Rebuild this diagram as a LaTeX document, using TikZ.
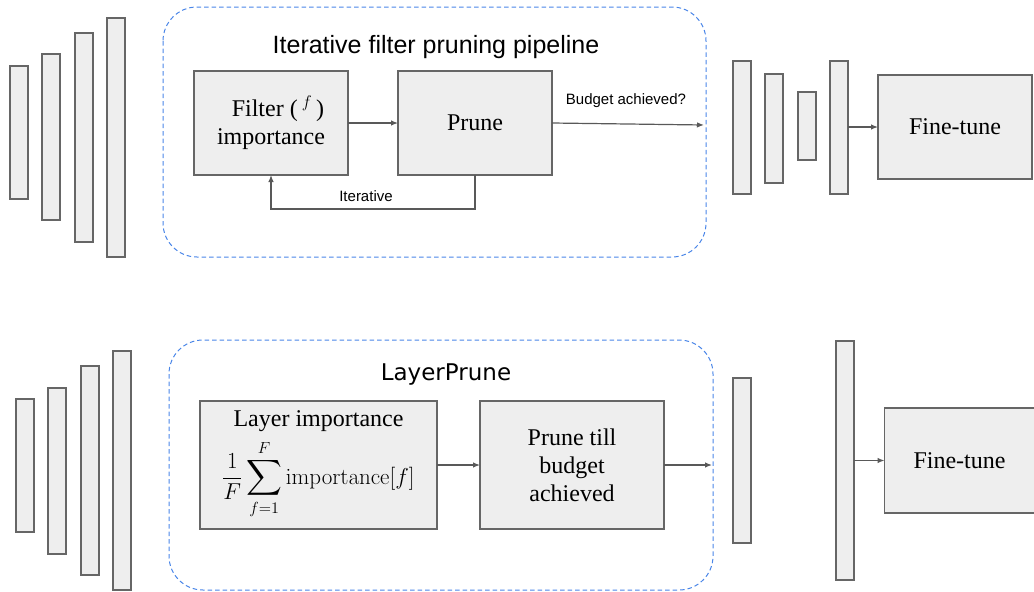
\RequirePackage{fix-cm}
\documentclass[tikz,border=0pt]{standalone}
\usepackage{amsmath}
\usepackage{exscale}
\usepackage[no-math]{fontspec}
\setmainfont{Liberation Serif}
\newfontfamily\arialfont{Liberation Sans}
\newfontfamily\dejafont{DejaVu Sans}
\usetikzlibrary{arrows.meta}
\definecolor{boxfill}{HTML}{EEEEEE}
\definecolor{boxline}{HTML}{666666}
\definecolor{arrline}{HTML}{595959}
\definecolor{dashblue}{HTML}{4A86E8}
\tikzset{
  bar/.style={draw=boxline, fill=boxfill, line width=1.2pt, minimum width=18pt, inner sep=0pt, outer sep=0pt},
  block/.style={draw=boxline, fill=boxfill, line width=1.2pt, inner sep=0pt, outer sep=0pt, align=center, font=\fontsize{24}{28}\selectfont},
  group/.style={draw=dashblue, line width=1pt, dash pattern=on 4.5pt off 3pt, rounded corners=34pt},
  conn/.style={draw=arrline, line width=1.2pt, -{Latex[length=7pt,width=5.5pt]}},
  smalllabel/.style={font=\arialfont\fontsize{15}{17}\selectfont, inner sep=0pt}
}
\begin{document}
\begin{tikzpicture}[x=1pt,y=-1pt]
\useasboundingbox (0,0) rectangle (1034,592);
% ---------- top row ----------
\node[bar, minimum height=133pt] (t1) at (19,132.5) {};
\node[bar, minimum height=166pt] (t2) at (51,137) {};
\node[bar, minimum height=209pt] (t3) at (84,137.5) {};
\node[bar, minimum height=239pt] (t4) at (116,137.5) {};

\draw[group] (163,7) rectangle (706,257);
\node[font=\arialfont\fontsize{25}{28}\selectfont, inner sep=0pt] (toptitle) at (436,47) {Iterative filter pruning pipeline};

\node[block, minimum width=154pt, minimum height=104pt] (filter) at (271,123) {\hspace*{14pt}Filter (\,$^{f}$\,)\\importance};
\node[block, minimum width=154pt, minimum height=104pt] (prune) at (475,123) {Prune};
\draw[conn] (filter) -- (prune);
\coordinate (loop) at (475,209);
\draw[conn] (prune.south) -- (loop) -| (filter.south);
\node[smalllabel] (iterlbl) at (366,196) {Iterative};

\coordinate (topexit) at (704,125);
\draw[conn] (prune.east) -- (topexit);
\node[smalllabel] (budgetlbl) at (626,101) {Budget achieved?};

\node[bar, minimum height=133pt] (ra) at (742,127.5) {};
\node[bar, minimum height=109pt] (rb) at (774,128.5) {};
\node[bar, minimum height=68pt] (rc) at (807,126) {};
\node[bar, minimum height=133pt] (rd) at (839,127.5) {};
\node[block, minimum width=154pt, minimum height=104pt] (ft1) at (955,127) {Fine-tune};
\draw[conn] (rd.east |- ft1.west) -- (ft1.west);

% ---------- bottom row ----------
\node[bar, minimum height=133pt] (b1) at (25,465.5) {};
\node[bar, minimum height=166pt] (b2) at (57,471) {};
\node[bar, minimum height=209pt] (b3) at (90,470.5) {};
\node[bar, minimum height=239pt] (b4) at (122,470.5) {};

\draw[group] (169,340) rectangle (713,590);
\node[font=\dejafont\fontsize{23}{26}\selectfont, inner sep=0pt] (bottitle) at (446,375) {LayerPrune};

\node[block, minimum width=237pt, minimum height=128pt] (layer) at (318.5,465) {Layer importance\\[7pt]
  {\fontsize{23}{26}\selectfont$\displaystyle \frac{1}{F}\sum_{f=1}^{F}\mathrm{importance}[f]$}};
\node[block, minimum width=184pt, minimum height=128pt] (prunetill) at (572,465) {Prune till\\budget\\achieved};
\draw[conn] (layer) -- (prunetill);
\coordinate (botexit) at (712,465);
\draw[conn] (prunetill.east) -- (botexit);

\node[bar, minimum height=165pt] (rbar) at (742,460.5) {};
\node[bar, minimum height=239pt] (tallbar) at (845,460.5) {};
\node[block, minimum width=150pt, minimum height=105pt] (ft2) at (959.5,460.5) {Fine-tune};
\draw[conn] (tallbar.east |- ft2.west) -- (ft2.west);
\end{tikzpicture}
\end{document}
